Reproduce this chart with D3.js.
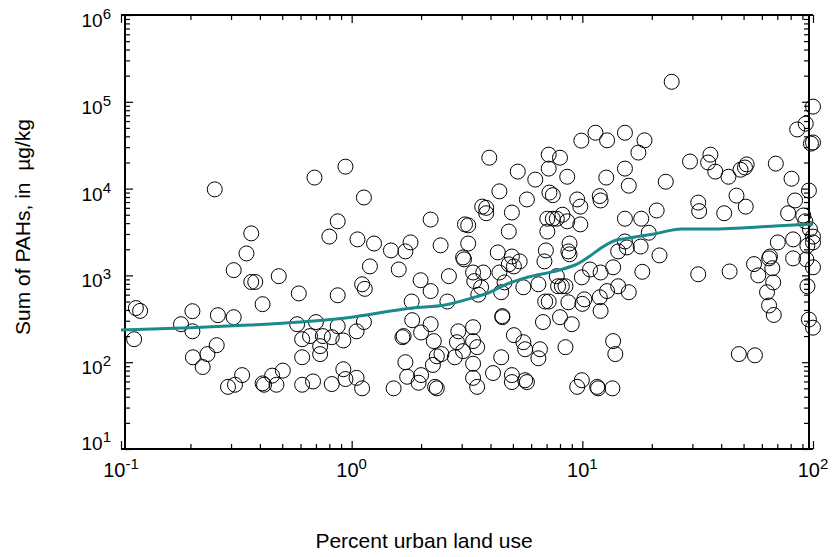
<!DOCTYPE html>
<html>
<head>
<meta charset="utf-8">
<script src="https://cdn.jsdelivr.net/npm/d3@7"></script>
<style>
  body { margin: 0; background: #fff; }
  svg { display: block; font-family: Helvetica, Arial, "Liberation Sans", sans-serif; }
</style>
</head>
<body>
<div id="chart"></div>
<script>
// percent urban land use for each site
const pctUrban = [
  0.116,0.121,0.114,0.182,0.204,0.204,0.205,0.226,0.237,0.26,
  0.263,0.308,0.291,0.312,0.335,0.411,0.417,0.452,0.472,0.503,
  0.411,0.58,0.61,0.61,0.70,0.66,0.73,0.73,0.75,0.82,
  0.87,0.61,0.68,0.82,0.92,0.94,0.92,0.59,0.87,0.367,
  0.382,0.483,0.308,0.255,0.367,0.35,0.94,0.69,0.87,0.80,
  1.06,
  1.13,2.2,1.25,1.48,1.71,1.8,2.43,3.1,3.2,3.2,
  3.04,3.07,1.2,1.6,3.95,5.25,4.37,3.68,3.83,3.83,
  5.75,6.25,7.15,8.0,7.15,8.6,7.2,7.45,9.5,9.8,
  9.9,4.95,4.8,7.05,7.45,7.75,8.2,8.6,7.05,9.8,
  6.95,8.8,8.7,8.8,4.3,4.95,5.35,4.8,5.05,6.85,
  1.99,2.2,2.64,3.36,3.4,3.72,4.37,4.6,3.64,3.54,
  4.45,5.55,6.45,6.9,7.75,7.85,8.15,8.45,8.7,9.95,
  10.0,1.11,1.14,1.82,2.6,1.05,1.13,1.83,1.66,1.68,
  2.0,2.2,2.27,2.9,3.36,2.86,3.04,3.36,3.5,4.5,
  4.5,5.05,5.55,5.65,6.55,6.45,6.75,8.0,9.0,7.15,
  8.45,2.34,2.45,2.25,2.8,3.36,4.45,1.71,1.74,2.0,
  1.95,2.3,2.34,1.52,1.11,1.05,3.36,3.5,4.1,4.95,
  4.95,5.65,5.75,9.5,9.95,
  24.4,11.4,12.8,15.3,18.6,17.5,15.3,12.7,15.9,23,
  11.9,12.0,15.3,18.0,21,19.4,29.3,35.9,35.1,37.7,
  43,48.5,50.7,51.6,69,80.7,31.8,32.1,41.2,46.6,
  51.1,85.4,93,100,98,100,96,83.6,78,90.7,
  92.6,97,100,100,94.5,82,70.4,65.1,15.3,15.6,
  17.9,14.3,21.6,
  10.8,12.0,13.6,18.2,14.3,12.8,15.9,10.2,11.9,12.0,
  31.8,43.5,55.5,57.9,64.5,66.6,67.2,63.2,64.5,67.6,
  82,93.6,100,94.6,96,100,13.6,13.9,47.7,56,
  11.6,11.7,13.5
]

// sum of PAHs, ug/kg, same order
const sumPAHs = [
  420,390,184,274,387,227,114,88,124,157,
  348,330,52,55,71,57,55,70,55,80,
  466,274,114,184,290,200,153,124,200,194,
  260,55,60,56,83,64,178,620,590,840,
  840,980,1150,9800,3050,1790,17900,13400,4200,2800,
  2600,
  7900,4400,2330,1940,1890,2400,2220,3870,3770,2330,
  1610,1530,1270,1170,22700,15700,9300,6200,6000,5200,
  7500,12700,24600,22700,17000,13700,9000,8400,7500,6200,
  35700,5300,3200,4500,4500,4500,5000,4200,3200,3870,
  1940,2330,1890,1750,1840,1650,1450,1340,1270,1450,
  880,660,980,1080,860,1080,1080,830,730,600,
  640,730,790,500,980,750,750,750,490,950,
  470,790,700,500,500,227,290,305,194,200,
  220,274,175,227,253,170,134,175,149,340,
  330,205,170,141,141,111,290,330,274,500,
  149,117,124,93,114,96,114,100,68,71,
  58,52,50,50,50,66,66,52,75,71,
  59,62,59,52,62,
  170000,44000,36000,44000,36000,26000,17000,13400,10800,12000,
  8200,7300,4500,4500,5600,3100,20500,24600,20000,15700,
  13700,16500,17500,19000,19400,13000,6900,5500,5200,8300,
  6200,48000,56000,88000,33000,34000,9500,7300,5200,4900,
  4200,3400,2800,2400,2200,2600,2400,1650,2460,2100,
  2150,1890,1700,
  1170,1080,1240,1100,750,660,640,530,560,390,
  1030,1110,1350,1000,1570,1210,830,640,450,350,
  1570,1530,1240,750,310,250,175,124,124,120,
  52,50,50
]

// smoothed trend line
const trendPct = [0.1,0.2,0.36,0.6,0.94,1.83,2.54,3.33,3.9,4.6,5.65,7.95,9.3,14.2,15,20.4,26.9,37.4,49.1,68.3,100]
const trendPAHs = [235,250,268,290,323,421,456,550,627,775,933,1150,1318,2570,2630,3000,3430,3430,3520,3710,3910]

const xMajor = [0.1, 1, 10, 100]
const yMajor = [10, 100, 1000, 10000, 100000, 1000000]

const xTitle = "Percent urban land use"
const yTitle = "Sum of PAHs, in  \u00b5g/kg"

const width = 833, height = 557

const svg = d3.select("#chart")
  .append("svg")
  .attr("width", width)
  .attr("height", height)

const x = d3.scaleLog().domain([0.1, 100]).range([121, 813])
const y = d3.scaleLog().domain([10, 1e6]).range([449, 15])

const plotLeft = x.range()[0] + 4
const plotRight = x.range()[1] - 4
const plotTop = y.range()[1]
const plotBottom = y.range()[0]

function minors(majors) {
  const out = []
  majors.slice(0, -1).forEach(m => {
    for (let k = 2; k < 10; k++) out.push(m * k)
  })
  return out
}

function ticks(axisFn, scale, values, size, transform) {
  svg.append("g")
    .attr("transform", transform)
    .call(axisFn(scale).tickValues(values).tickSize(size).tickFormat(""))
    .call(g => g.select(".domain").remove())
    .call(g => g.selectAll("line").attr("stroke", "#000").attr("stroke-width", 1.2))
}

// ticks on all four sides, pointing inward
ticks(d3.axisTop, x, xMajor, 8, `translate(0,${plotBottom})`)
ticks(d3.axisTop, x, minors(xMajor), 5, `translate(0,${plotBottom})`)
ticks(d3.axisBottom, x, xMajor, 8, `translate(0,${plotTop})`)
ticks(d3.axisBottom, x, minors(xMajor), 5, `translate(0,${plotTop})`)
ticks(d3.axisRight, y, yMajor, 8, `translate(${plotLeft},0)`)
ticks(d3.axisRight, y, minors(yMajor), 5, `translate(${plotLeft},0)`)
ticks(d3.axisLeft, y, yMajor, 7, `translate(${plotRight},0)`)
ticks(d3.axisLeft, y, minors(yMajor), 5, `translate(${plotRight},0)`)

// frame
const frame = svg.append("g").attr("stroke", "#000").attr("stroke-width", 2)
frame.append("line").attr("x1", x.range()[0]).attr("x2", x.range()[1]).attr("y1", plotTop).attr("y2", plotTop)
frame.append("line").attr("x1", x.range()[0]).attr("x2", x.range()[1]).attr("y1", plotBottom).attr("y2", plotBottom)
frame.append("line").attr("x1", plotLeft).attr("x2", plotLeft).attr("y1", plotTop).attr("y2", plotBottom)
frame.append("line").attr("x1", plotRight).attr("x2", plotRight).attr("y1", plotTop).attr("y2", plotBottom)

// tick labels as 10 with superscript exponent
xMajor.forEach(v => {
  const t = svg.append("text")
    .attr("x", x(v))
    .attr("y", plotBottom + 28)
    .attr("text-anchor", "middle")
    .attr("font-size", 20)
  t.append("tspan").text("10")
  t.append("tspan").attr("dy", -8).attr("font-size", 15).text(Math.round(Math.log10(v)))
})

yMajor.forEach(v => {
  const t = svg.append("text")
    .attr("x", 111)
    .attr("y", Math.min(y(v) + 12, plotBottom + 1))
    .attr("text-anchor", "end")
    .attr("font-size", 19)
  t.append("tspan").text("10")
  t.append("tspan").attr("dy", -8).attr("font-size", 15).text(Math.round(Math.log10(v)))
})

// scatter
svg.append("g")
  .selectAll("circle")
  .data(d3.range(pctUrban.length))
  .enter()
    .append("circle")
    .attr("cx", i => x(pctUrban[i]))
    .attr("cy", i => y(sumPAHs[i]))
    .attr("r", 7.5)
    .attr("fill", "none")
    .attr("stroke", "#000")
    .attr("stroke-width", 1)

// trend line
const line = d3.line()
  .x(i => x(trendPct[i]))
  .y(i => y(trendPAHs[i]))
  .curve(d3.curveMonotoneX)

svg.append("path")
  .attr("d", line(d3.range(trendPct.length)))
  .attr("fill", "none")
  .attr("stroke", "#1b8a8c")
  .attr("stroke-width", 3)

// axis titles
svg.append("text")
  .attr("x", 424)
  .attr("y", 548)
  .attr("text-anchor", "middle")
  .attr("font-size", 21)
  .text(xTitle)

svg.append("text")
  .attr("transform", "translate(30,227) rotate(-90)")
  .attr("text-anchor", "middle")
  .attr("font-size", 21)
  .style("white-space", "pre")
  .text(yTitle)
</script>
</body>
</html>
